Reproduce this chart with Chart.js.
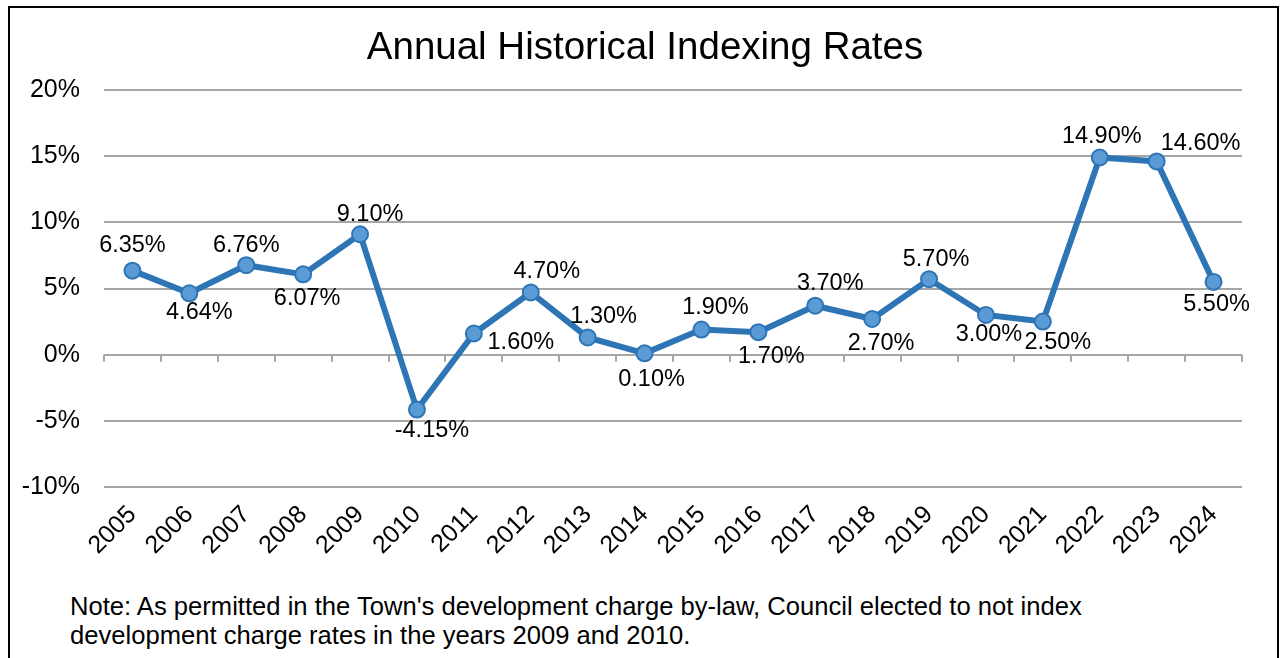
<!DOCTYPE html>
<html>
<head>
<meta charset="utf-8">
<script src="https://cdn.jsdelivr.net/npm/chart.js@4/dist/chart.umd.min.js"></script>
<style>
  body { margin: 0; background: #fff; overflow: hidden; }
  #frame { position: absolute; left: 8px; top: 6px; width: 1271px; height: 700px; border: 2px solid #000; box-sizing: border-box; }
  #wrap { position: absolute; left: 0; top: 0; width: 1282px; height: 570px; }
  #note { position: absolute; left: 70px; top: 592px; font-family: "Liberation Sans", Arial, sans-serif; font-size: 25.6px; line-height: 29px; color: #000; white-space: nowrap; }
</style>
</head>
<body>
<div id="frame"></div>
<div id="wrap"><canvas id="lineChart"></canvas></div>
<div id="note">Note: As permitted in the Town's development charge by-law, Council elected to not index<br>development charge rates in the years 2009 and 2010.</div>
<script>
const chartTitle = 'Annual Historical Indexing Rates';
const years = ['2005', '2006', '2007', '2008', '2009', '2010', '2011', '2012', '2013', '2014',
  '2015', '2016', '2017', '2018', '2019', '2020', '2021', '2022', '2023', '2024'];
const rates = [6.35, 4.64, 6.76, 6.07, 9.10, -4.15, 1.60, 4.70, 1.30, 0.10,
  1.90, 1.70, 3.70, 2.70, 5.70, 3.00, 2.50, 14.90, 14.60, 5.50];
const yTicks = [-10, -5, 0, 5, 10, 15, 20];

// where each data label sits relative to its point (px)
const labelOffsets = [
  [0, -25], [10, 19], [0, -20], [4, 24], [10, -20], [15, 21], [47, 9], [16, -21], [16, -21], [7, 26],
  [14, -22], [13, 24], [15, -22], [9, 25], [7, -20], [3, 20], [15, 21], [2, -21], [44, -18], [3, 23]
];

const FONT = '"Liberation Sans", Arial, sans-serif';

const pointLabels = {
  id: 'pointLabels',
  afterDatasetsDraw(chart) {
    const ctx = chart.ctx;
    const meta = chart.getDatasetMeta(0);
    ctx.save();
    ctx.font = '23.5px ' + FONT;
    ctx.fillStyle = '#000';
    ctx.textAlign = 'center';
    ctx.textBaseline = 'middle';
    meta.data.forEach((pt, i) => {
      const off = labelOffsets[i];
      ctx.fillText(rates[i].toFixed(2) + '%', pt.x + off[0], pt.y + off[1]);
    });
    ctx.restore();
  }
};

// title centred on the whole frame, not just the plot
const frameTitle = {
  id: 'frameTitle',
  afterDraw(chart) {
    const ctx = chart.ctx;
    ctx.save();
    ctx.font = '38.5px ' + FONT;
    ctx.fillStyle = '#000';
    ctx.textAlign = 'center';
    ctx.textBaseline = 'middle';
    ctx.fillText(chartTitle, 645, 48);
    ctx.restore();
  }
};

// category axis crosses at 0 with tick marks between categories
const zeroAxis = {
  id: 'zeroAxis',
  beforeDatasetsDraw(chart) {
    const ctx = chart.ctx;
    const x = chart.scales.x;
    const y0 = chart.scales.y.getPixelForValue(0);
    const half = (x.getPixelForValue(1) - x.getPixelForValue(0)) / 2;
    ctx.save();
    ctx.strokeStyle = '#a6a6a6';
    ctx.lineWidth = 2;
    ctx.beginPath();
    for (let i = 0; i <= years.length; i++) {
      const px = Math.round(x.getPixelForValue(i) - half);
      ctx.moveTo(px, y0);
      ctx.lineTo(px, y0 + 7);
    }
    ctx.stroke();
    ctx.restore();
  }
};

const ctx = document.getElementById('lineChart').getContext('2d');
new Chart(ctx, {
  type: 'line',
  data: {
    labels: years,
    datasets: [{
      data: rates,
      borderColor: '#2E75B6',
      borderWidth: 6,
      backgroundColor: '#5B9BD5',
      pointBackgroundColor: '#5B9BD5',
      pointBorderColor: '#2E75B6',
      pointBorderWidth: 2,
      pointRadius: 8,
      tension: 0,
      fill: false
    }]
  },
  options: {
    responsive: true,
    maintainAspectRatio: false,
    animation: false,
    layout: { padding: { left: 8, right: 40, top: 90, bottom: 0 } },
    plugins: {
      legend: { display: false },
      tooltip: { enabled: false },
      title: { display: false }
    },
    scales: {
      x: {
        offset: true,
        grid: { display: false },
        border: { display: false },
        afterFit: (scale) => { scale.height = 83; },
        ticks: {
          color: '#000',
          font: { family: FONT, size: 25 },
          maxRotation: 45,
          minRotation: 45,
          padding: 5,
          autoSkip: false
        }
      },
      y: {
        min: -10,
        max: 20,
        afterFit: (scale) => { scale.width = 96; },
        afterBuildTicks: (scale) => { scale.ticks = yTicks.map(v => ({ value: v })); },
        grid: { color: '#a6a6a6', lineWidth: 2, drawTicks: false },
        border: { display: false },
        ticks: {
          color: '#000',
          font: { family: FONT, size: 25 },
          padding: 24,
          callback: (value) => value + '%'
        }
      }
    }
  },
  plugins: [pointLabels, zeroAxis, frameTitle]
});
</script>
</body>
</html>
